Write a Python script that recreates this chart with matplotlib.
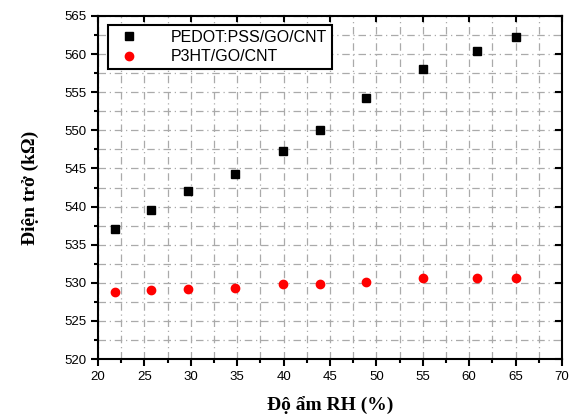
import numpy as np
import matplotlib
matplotlib.use("Agg")
import matplotlib.pyplot as plt
from matplotlib.ticker import MultipleLocator

rh_pedot = [21.8, 25.7, 29.7, 34.8, 39.9, 43.9, 48.9, 55.0, 60.8, 65.0]
r_pedot = [537.0, 539.5, 542.1, 544.3, 547.3, 550.1, 554.3, 558.0, 560.4, 562.2]
rh_p3ht = [21.8, 25.7, 29.7, 34.8, 39.9, 43.9, 48.9, 55.0, 60.8, 65.0]
r_p3ht = [528.8, 529.0, 529.2, 529.3, 529.8, 529.9, 530.1, 530.6, 530.6, 530.6]
labels = ["PEDOT:PSS/GO/CNT", "P3HT/GO/CNT"]

fig = plt.figure(figsize=(5.7, 4.19), dpi=100)
ax = fig.add_axes([0.172, 0.143, 0.814, 0.819])

ax.plot(rh_pedot, r_pedot, "s", color="black", ms=6, label=labels[0], zorder=3)
ax.plot(rh_p3ht, r_p3ht, "o", color="red", ms=6, label=labels[1], zorder=3)

ax.set_xlim(20, 70)
ax.set_ylim(520, 565)
ax.xaxis.set_major_locator(MultipleLocator(5))
ax.xaxis.set_minor_locator(MultipleLocator(2.5))
ax.yaxis.set_major_locator(MultipleLocator(5))
ax.yaxis.set_minor_locator(MultipleLocator(2.5))
ax.grid(True, which="both", color="#aaaaaa", linestyle=(0, (6, 3, 1, 3)), linewidth=0.9)
ax.set_axisbelow(True)

ax.tick_params(which="both", direction="out", top=False, right=False,
               labelsize=9.5, width=1.5)
ax.tick_params(which="major", length=5)
ax.tick_params(which="minor", length=3)
for s in ax.spines.values():
    s.set_linewidth(1.5)
# inward mirrored ticks on top/right
for x in range(20, 71, 5):
    ax.plot([x, x], [565, 564.3], color="black", lw=1.5, clip_on=False, zorder=4)
for y in range(520, 566, 5):
    ax.plot([70, 69.3], [y, y], color="black", lw=1.5, clip_on=False, zorder=4)

for lab in ax.get_xticklabels() + ax.get_yticklabels():
    lab.set_family("Liberation Sans")

ax.set_xlabel("Độ ẩm RH (%)", family="Liberation Serif", fontweight="bold",
              fontsize=14, labelpad=10)
ax.set_ylabel("Điện trở (kΩ)", family="Liberation Serif", fontweight="bold",
              fontsize=14, labelpad=18)

leg = ax.legend(loc="upper left", bbox_to_anchor=(0.022, 0.974), fancybox=False,
                edgecolor="black", framealpha=1, prop={"family": "Liberation Sans", "size": 11.5},
                handletextpad=1.6, borderpad=0.3, labelspacing=0.3, markerscale=1.0,
                borderaxespad=0)
leg.get_frame().set_linewidth(1.5)

fig.savefig("out.png", dpi=100)
